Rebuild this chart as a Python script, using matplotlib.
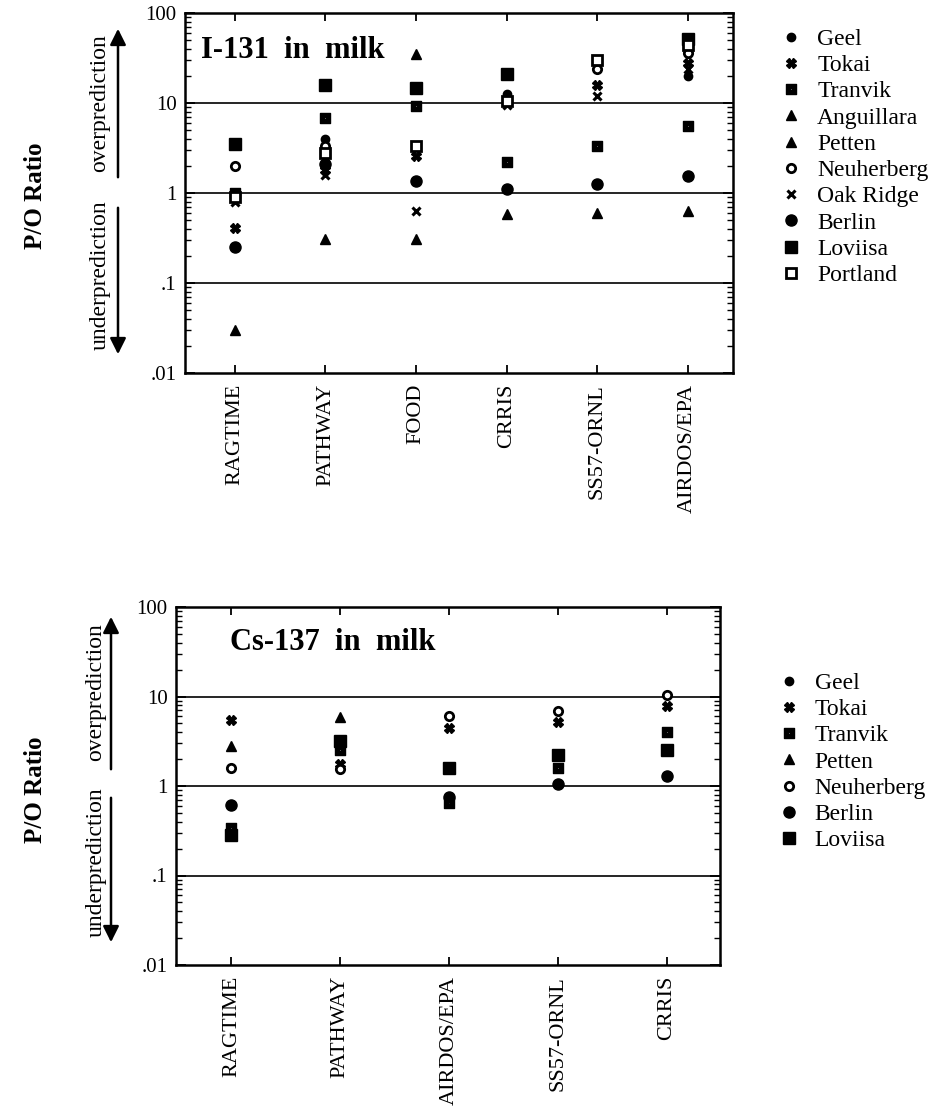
import numpy as np
import matplotlib
matplotlib.use("Agg")
import matplotlib.pyplot as plt
from matplotlib.path import Path
from matplotlib.patches import FancyArrowPatch
from matplotlib.ticker import LogLocator, NullFormatter, FixedLocator, FixedFormatter

plt.rcParams['font.family'] = ['Liberation Serif', 'DejaVu Serif']

nan = np.nan

# ---- I-131 in milk ----
i131_models = ["RAGTIME", "PATHWAY", "FOOD", "CRRIS", "SS57-ORNL", "AIRDOS/EPA"]
i131_sites = ["Geel", "Tokai", "Tranvik", "Anguillara", "Petten",
              "Neuherberg", "Oak Ridge", "Berlin", "Loviisa", "Portland"]
i131_geel = [nan, 4.0, nan, 12.5, nan, 20]
i131_tokai = [0.41, 1.8, 2.6, nan, 16, 28]
i131_tranvik = [1.0, 6.9, 9.2, 2.2, 3.3, 5.6]
i131_anguillara = [0.03, nan, 35, nan, nan, nan]
i131_petten = [nan, 0.31, 0.31, 0.58, 0.6, 0.63]
i131_neuherberg = [2.0, 3.3, nan, nan, 24, 36]
i131_oakridge = [0.8, 1.6, 0.63, 9.4, 12, 24]
i131_berlin = [0.25, 2.1, 1.35, 1.1, 1.26, 1.55]
i131_loviisa = [3.5, 15.8, 14.5, 21, nan, 52]
i131_portland = [0.9, 2.8, 3.3, 10.5, 30, 44]

# ---- Cs-137 in milk ----
cs137_models = ["RAGTIME", "PATHWAY", "AIRDOS/EPA", "SS57-ORNL", "CRRIS"]
cs137_sites = ["Geel", "Tokai", "Tranvik", "Petten", "Neuherberg", "Berlin", "Loviisa"]
cs137_geel = [nan, nan, nan, nan, nan]
cs137_tokai = [5.5, 1.75, 4.5, 5.2, 7.8]
cs137_tranvik = [0.34, 2.5, 0.65, 1.6, 4.0]
cs137_petten = [2.8, 5.9, nan, nan, nan]
cs137_neuherberg = [1.6, 1.55, 6.0, 6.9, 10.3]
cs137_berlin = [0.62, nan, 0.75, 1.05, 1.3]
cs137_loviisa = [0.28, 3.2, 1.6, 2.2, 2.5]

ytick_vals = [0.01, 0.1, 1, 10, 100]
ytick_labels = [".01", ".1", "1", "10", "100"]


def square_with_dot():
    outer = [(-1, -1), (1, -1), (1, 1), (-1, 1), (-1, -1)]
    inner = [(-0.3, -0.3), (-0.3, 0.3), (0.3, 0.3), (0.3, -0.3), (-0.3, -0.3)]
    codes = ([Path.MOVETO] + [Path.LINETO] * 3 + [Path.CLOSEPOLY]) * 2
    return Path(outer + inner, codes)


# marker styles per site
styles = {
    "Geel": dict(marker="o", ms=6, mfc="black", mec="black"),
    "Tokai": dict(marker="X", ms=7, mfc="black", mec="black"),
    "Tranvik": dict(marker=square_with_dot(), ms=7, mfc="black", mec="black"),
    "Anguillara": dict(marker="^", ms=7, mfc="black", mec="black"),
    "Petten": dict(marker="^", ms=7, mfc="black", mec="black"),
    "Neuherberg": dict(marker="o", ms=6, mfc="white", mec="black", mew=2),
    "Oak Ridge": dict(marker="x", ms=6, mec="black", mew=2.2),
    "Berlin": dict(marker="o", ms=8, mfc="black", mec="black"),
    "Loviisa": dict(marker="s", ms=8, mfc="black", mec="black"),
    "Portland": dict(marker="s", ms=7, mfc="white", mec="black", mew=2),
}

W, H = 947, 1113
fig = plt.figure(figsize=(W / 100, H / 100), dpi=100)


def px_axes(left, top, right, bottom):
    return fig.add_axes([left / W, 1 - bottom / H, (right - left) / W, (bottom - top) / H])


def setup(ax, models, xlim):
    ax.set_yscale("log")
    ax.set_ylim(0.01, 100)
    ax.set_xlim(*xlim)
    for v in [0.1, 1, 10]:
        ax.axhline(v, color="black", lw=1.2, zorder=1)
    ax.yaxis.set_major_locator(FixedLocator(ytick_vals))
    ax.yaxis.set_major_formatter(FixedFormatter(ytick_labels))
    ax.yaxis.set_minor_locator(LogLocator(base=10, subs=np.arange(2, 10), numticks=20))
    ax.yaxis.set_minor_formatter(NullFormatter())
    ax.tick_params(axis="y", which="major", direction="in", length=7, width=1.3,
                   right=True, labelsize=15, pad=6)
    ax.tick_params(axis="y", which="minor", direction="in", length=4, width=1, right=True)
    ax.set_xticks(range(1, len(models) + 1))
    ax.set_xticklabels(models, rotation=90, fontsize=16)
    ax.tick_params(axis="x", direction="in", length=6, width=1.3, top=True, pad=8)
    for s in ax.spines.values():
        s.set_linewidth(1.8)


def arrows(x, y_up0, y_up1, y_dn0, y_dn1, tx, over_y, under_y):
    for y0, y1 in [(y_up0, y_up1), (y_dn0, y_dn1)]:
        fig.add_artist(FancyArrowPatch(
            (x / W, 1 - y0 / H), (x / W, 1 - y1 / H), transform=fig.transFigure,
            arrowstyle="-|>", mutation_scale=24, lw=1.8, color="black"))
    fig.text(tx / W, 1 - over_y / H, "overprediction", rotation=90, fontsize=17,
             ha="center", va="center")
    fig.text(tx / W, 1 - under_y / H, "underprediction", rotation=90, fontsize=17,
             ha="center", va="center")


# ---- top panel ----
ax1 = px_axes(185, 13, 733, 373)
setup(ax1, i131_models, (0.45, 6.5))
i131_data = [i131_geel, i131_tokai, i131_tranvik, i131_anguillara, i131_petten,
             i131_neuherberg, i131_oakridge, i131_berlin, i131_loviisa, i131_portland]
x1 = np.arange(1, len(i131_models) + 1)
for name, vals in zip(i131_sites, i131_data):
    ax1.plot(x1, vals, linestyle="none", label=name, zorder=3, **styles[name])
ax1.text(0.03, 0.895, "I-131  in  milk", transform=ax1.transAxes, fontsize=22,
         fontweight="bold", va="center")
ax1.legend(loc="upper left", bbox_to_anchor=(1.05, 1.01), frameon=False, fontsize=17,
           handletextpad=0.6, labelspacing=0.2, handlelength=1.0, borderaxespad=0.4)

# ---- bottom panel ----
ax2 = px_axes(176, 607, 720, 965)
setup(ax2, cs137_models, (0.49, 5.49))
cs137_data = [cs137_geel, cs137_tokai, cs137_tranvik, cs137_petten,
              cs137_neuherberg, cs137_berlin, cs137_loviisa]
x2 = np.arange(1, len(cs137_models) + 1)
for name, vals in zip(cs137_sites, cs137_data):
    ax2.plot(x2, vals, linestyle="none", label=name, zorder=3, **styles[name])
ax2.text(0.1, 0.9, "Cs-137  in  milk", transform=ax2.transAxes, fontsize=22,
         fontweight="bold", va="center")
ax2.legend(loc="upper left", bbox_to_anchor=(1.07, 0.87), frameon=False, fontsize=17,
           handletextpad=0.6, labelspacing=0.2, handlelength=1.0, borderaxespad=0.4)

# axis labels and arrows
fig.text(35 / W, 1 - 196 / H, "P/O Ratio", rotation=90, fontsize=18, fontweight="bold",
         ha="center", va="center")
fig.text(35 / W, 1 - 790 / H, "P/O Ratio", rotation=90, fontsize=18, fontweight="bold",
         ha="center", va="center")
arrows(118, 180, 26, 205, 357, 100, 103, 275)
arrows(111, 772, 614, 795, 945, 96, 692, 862)

fig.savefig("out.png", dpi=100)
